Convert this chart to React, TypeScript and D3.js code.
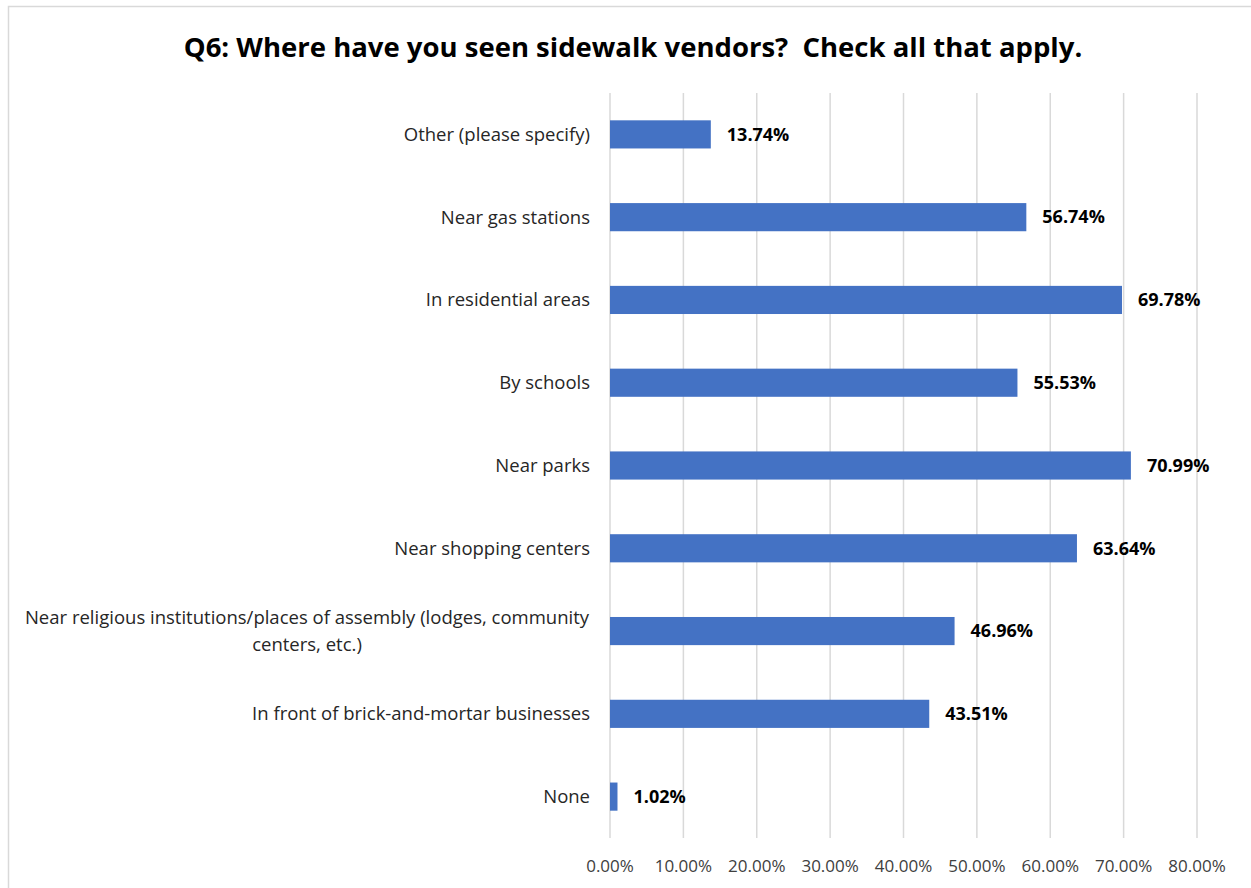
import React from "react";
import * as d3 from "d3";

const categories = [
  "Other (please specify)",
  "Near gas stations",
  "In residential areas",
  "By schools",
  "Near parks",
  "Near shopping centers",
  "Near religious institutions/places of assembly (lodges, community centers, etc.)",
  "In front of brick-and-mortar businesses",
  "None",
];
const values = [13.74, 56.74, 69.78, 55.53, 70.99, 63.64, 46.96, 43.51, 1.02];
const ticks = [0, 10, 20, 30, 40, 50, 60, 70, 80];
const title = "Q6: Where have you seen sidewalk vendors?  Check all that apply.";

const labelLines: Record<string, string[]> = {
  "Near religious institutions/places of assembly (lodges, community centers, etc.)": [
    "Near religious institutions/places of assembly (lodges, community",
    "centers, etc.)",
  ],
};

const W = 1251;
const H = 888;
const FONT = "'Open Sans', Lato, sans-serif";

export default function App() {
  const x = d3.scaleLinear().domain([0, 80]).range([610, 1197]);
  const y = d3
    .scaleBand<string>()
    .domain(categories)
    .range([93, 838])
    .paddingInner(0.66)
    .paddingOuter(0.33);
  const bh = y.bandwidth();

  return (
    <svg
      width={W}
      height={H}
      style={{ position: "absolute", left: 0, top: 0, background: "#fff" }}
      fontFamily={FONT}
    >
      <rect x={8.5} y={6.5} width={W + 10} height={H + 10} fill="#fff" stroke="#d9d9d9" strokeWidth={1.5} />
      <text x={633} y={57} textAnchor="middle" fontSize={27.5} fontWeight="bold" fill="#000" style={{ whiteSpace: "pre" }}>
        {title}
      </text>
      {ticks.map((t) => (
        <g key={t}>
          <line x1={x(t)} x2={x(t)} y1={93} y2={838} stroke="#d9d9d9" strokeWidth={1.5} />
          <text x={x(t)} y={866} dy="0.35em" textAnchor="middle" fontSize={17} fill="#404040">
            {t.toFixed(2) + "%"}
          </text>
        </g>
      ))}
      {categories.map((c, i) => {
        const yc = (y(c) as number) + bh / 2;
        const lines = labelLines[c] || [c];
        const lh = 27;
        const start = yc - ((lines.length - 1) * lh) / 2;
        return (
          <g key={c}>
            <rect x={x(0)} y={y(c)} width={x(values[i]) - x(0)} height={bh} fill="#4472C4" />
            {lines.map((ln, j) => (
              <text
                key={j}
                x={lines.length > 1 ? 307 : 590}
                y={start + j * lh}
                dy="0.35em"
                textAnchor={lines.length > 1 ? "middle" : "end"}
                fontSize={18.5}
                fill="#262626"
              >
                {ln}
              </text>
            ))}
            <text x={x(values[i]) + 16} y={yc} dy="0.35em" fontSize={18} fontWeight="bold" fill="#000">
              {values[i].toFixed(2) + "%"}
            </text>
          </g>
        );
      })}
    </svg>
  );
}
